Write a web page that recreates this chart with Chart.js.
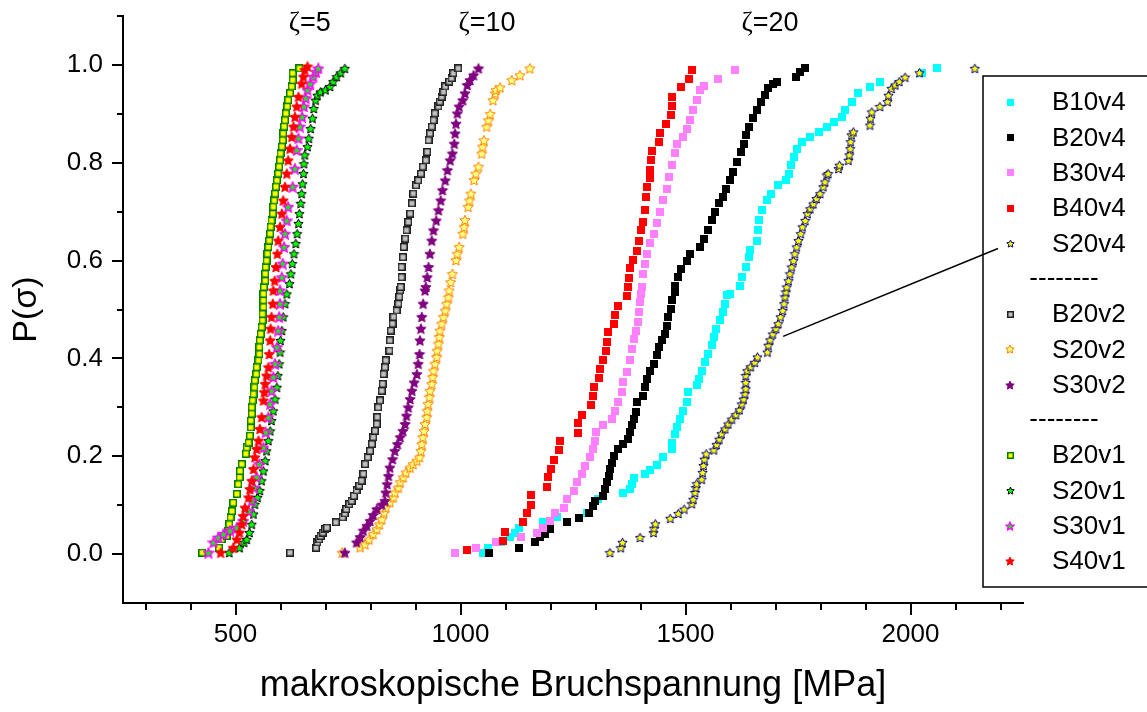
<!DOCTYPE html>
<html>
<head>
<meta charset="utf-8">
<script src="https://cdn.jsdelivr.net/npm/chart.js@4.4.1/dist/chart.umd.min.js"></script>
<style>
  html, body { margin: 0; padding: 0; background: #fff; }
</style>
</head>
<body>
<canvas id="chart" width="1147" height="712"></canvas>
<script>
// Achsen
const xTicks = [500, 1000, 1500, 2000];
const xMinorTicks = [300, 400, 500, 600, 700, 800, 900, 1000, 1100, 1200, 1300, 1400, 1500, 1600, 1700, 1800, 1900, 2000, 2100, 2200];
const yTicks = [0.0, 0.2, 0.4, 0.6, 0.8, 1.0];
const yMinorTicks = [0.0, 0.1, 0.2, 0.3, 0.4, 0.5, 0.6, 0.7, 0.8, 0.9, 1.0, 1.1];

// zeta=20
const b10v4X = [1051,1062,1091,1110,1121,1131,1184,1214,1280,1295,1306,1362,1377,1380,1386,1410,1421,1436,1451,1469,1471,1477,1482,1488,1495,1503,1506,1525,1531,1536,1543,1551,1558,1563,1568,1577,1583,1588,1593,1599,1620,1625,1634,1640,1643,1658,1662,1664,1669,1682,1691,1706,1723,1729,1734,1740,1747,1758,1777,1797,1814,1829,1847,1854,1869,1884,1910,1932,2025,2058];
const b10v4P = [.003,.013,.024,.034,.044,.054,.065,.075,.085,.099,.112,.124,.133,.144,.155,.164,.172,.183,.198,.215,.228,.246,.259,.276,.293,.310,.331,.345,.358,.375,.392,.409,.427,.444,.461,.478,.495,.512,.529,.532,.549,.566,.587,.607,.621,.641,.662,.682,.703,.723,.737,.754,.764,.778,.795,.812,.829,.843,.853,.863,.874,.884,.894,.908,.925,.942,.954,.966,.983,.993];

const b20v4X = [1064,1131,1166,1177,1188,1199,1236,1264,1286,1295,1299,1317,1321,1325,1329,1332,1336,1340,1351,1360,1373,1377,1380,1386,1390,1393,1406,1410,1414,1421,1429,1436,1442,1447,1454,1458,1462,1467,1471,1477,1477,1484,1491,1503,1511,1532,1540,1549,1558,1566,1575,1584,1591,1599,1606,1615,1623,1629,1634,1642,1651,1658,1667,1677,1684,1694,1703,1746,1754,1766];
const b20v4P = [.003,.013,.024,.034,.042,.051,.065,.073,.083,.099,.109,.119,.133,.147,.160,.174,.187,.201,.215,.225,.235,.249,.263,.276,.290,.310,.324,.341,.358,.375,.389,.406,.423,.437,.450,.467,.485,.502,.519,.536,.549,.566,.583,.600,.614,.628,.645,.662,.682,.699,.717,.730,.747,.764,.781,.802,.822,.839,.857,.874,.891,.908,.925,.938,.952,.962,.966,.976,.986,.993];

const b30v4X = [988,1034,1078,1134,1169,1184,1199,1210,1229,1236,1252,1258,1269,1277,1288,1295,1299,1300,1317,1336,1343,1351,1358,1362,1369,1377,1380,1386,1391,1395,1397,1399,1400,1403,1406,1410,1415,1421,1429,1436,1443,1451,1458,1464,1471,1477,1482,1495,1504,1510,1517,1525,1532,1540,1573,1610];
const b30v4P = [.003,.013,.024,.034,.044,.054,.068,.083,.095,.112,.129,.147,.164,.181,.198,.215,.232,.249,.263,.276,.293,.310,.331,.351,.372,.396,.420,.440,.457,.474,.495,.515,.532,.546,.573,.594,.614,.635,.655,.676,.700,.723,.747,.771,.795,.819,.839,.853,.870,.887,.908,.928,.949,.957,.971,.990];

const b40v4X = [1014,1095,1099,1139,1147,1157,1157,1193,1195,1202,1208,1219,1221,1260,1262,1269,1289,1294,1296,1308,1311,1317,1323,1325,1328,1341,1343,1351,1371,1373,1374,1377,1384,1392,1397,1400,1406,1410,1412,1414,1421,1421,1423,1425,1442,1443,1456,1468,1469,1471,1491,1508,1515];
const b40v4P = [.008,.027,.046,.065,.083,.1,.12,.138,.157,.174,.192,.212,.231,.248,.267,.285,.305,.323,.341,.36,.378,.397,.416,.433,.453,.471,.489,.508,.527,.545,.565,.584,.602,.62,.64,.662,.679,.703,.729,.75,.768,.786,.805,.824,.843,.861,.879,.898,.916,.935,.954,.972,.99];

const s20v4X = [1332,1356,1360,1399,1429,1430,1433,1466,1484,1497,1514,1517,1521,1523,1525,1536,1538,1540,1542,1546,1563,1569,1575,1580,1588,1595,1603,1612,1620,1625,1629,1632,1634,1634,1634,1637,1645,1654,1660,1682,1684,1688,1694,1701,1706,1711,1716,1719,1721,1723,1725,1729,1732,1736,1740,1743,1747,1751,1756,1760,1766,1771,1777,1784,1791,1799,1806,1810,1814,1817,1840,1842,1862,1864,1866,1867,1869,1873,1910,1911,1914,1932,1949,1951,1958,1966,1975,1988,2020,2143];
const s20v4P = [.003,.013,.024,.034,.044,.053,.062,.073,.083,.092,.103,.112,.126,.136,.144,.153,.167,.181,.194,.205,.213,.224,.235,.246,.256,.266,.276,.285,.295,.307,.317,.328,.338,.351,.365,.375,.383,.392,.403,.413,.427,.438,.450,.461,.471,.485,.498,.512,.526,.536,.546,.559,.573,.587,.600,.614,.628,.641,.655,.669,.682,.696,.706,.716,.727,.737,.751,.761,.775,.778,.788,.795,.805,.816,.829,.843,.857,.863,.877,.891,.904,.915,.925,.938,.952,.959,.966,.975,.984,.993];

// zeta=10
const b20v2X = [621,679,682,686,689,694,699,703,723,738,743,746,753,758,763,769,775,780,784,788,794,799,803,806,810,814,815,817,821,825,827,829,832,834,842,843,845,849,851,858,862,864,866,867,869,869,872,874,877,880,884,888,892,895,901,906,912,916,923,926,929,932,936,940,943,951,954,958,962,966,975,980,984,995];
const b20v2P = [.003,.013,.024,.030,.037,.044,.051,.054,.065,.075,.083,.092,.102,.109,.119,.130,.140,.150,.164,.184,.198,.211,.225,.239,.252,.266,.280,.300,.314,.334,.348,.368,.382,.396,.416,.437,.457,.471,.485,.498,.512,.526,.539,.546,.566,.587,.607,.628,.645,.662,.679,.696,.717,.737,.754,.764,.778,.792,.805,.822,.846,.860,.874,.887,.901,.915,.925,.935,.945,.956,.966,.973,.983,.993];

const s20v2X = [737,777,788,797,806,814,820,825,830,834,843,851,854,862,866,873,879,888,895,903,909,912,914,916,919,921,925,926,928,931,932,936,938,940,943,947,948,951,953,954,958,962,966,969,973,975,978,982,990,993,997,1005,1008,1010,1017,1020,1023,1030,1034,1040,1047,1049,1052,1058,1062,1066,1072,1077,1079,1088,1114,1132,1154];
const s20v2P = [.003,.014,.020,.030,.041,.051,.061,.071,.085,.095,.106,.116,.126,.136,.147,.157,.167,.177,.184,.191,.198,.211,.225,.239,.252,.266,.280,.293,.307,.321,.334,.348,.362,.375,.389,.403,.416,.430,.444,.457,.471,.485,.498,.512,.525,.539,.556,.573,.601,.614,.628,.655,.669,.683,.710,.723,.737,.765,.778,.792,.819,.833,.846,.874,.887,.900,.928,.942,.949,.954,.969,.979,.993];

const s30v2X = [743,769,777,784,792,799,806,814,825,832,834,837,840,843,849,854,860,866,872,877,880,884,888,892,897,903,906,909,910,912,914,917,921,923,926,929,932,936,940,946,951,956,960,966,971,977,982,986,988,990,993,997,1005,1010,1015,1021,1029,1040];
const s30v2P = [.003,.024,.035,.048,.058,.068,.080,.092,.101,.109,.126,.143,.160,.177,.194,.211,.225,.239,.252,.266,.283,.300,.317,.334,.351,.368,.389,.409,.437,.461,.485,.512,.539,.546,.566,.587,.614,.641,.662,.682,.703,.723,.744,.764,.785,.805,.819,.839,.860,.880,.901,.915,.928,.942,.959,.969,.979,.993];

// zeta=5
const b20v1X = [426,463,469,480,484,486,489,492,495,503,506,509,510,514,523,525,529,532,534,534,536,536,538,540,542,543,546,547,551,553,553,554,556,558,560,560,562,562,562,563,566,566,567,569,571,573,575,577,578,580,583,584,586,588,590,592,595,597,599,600,603,605,606,608,610,612,615,617,621,625,627,627,642];
const b20v1P = [.003,.013,.030,.037,.047,.061,.075,.088,.105,.123,.143,.157,.170,.184,.205,.218,.228,.242,.259,.273,.287,.300,.314,.327,.341,.355,.368,.382,.396,.409,.423,.437,.450,.464,.478,.491,.505,.519,.532,.546,.559,.573,.587,.600,.614,.628,.641,.655,.669,.682,.696,.710,.723,.737,.751,.764,.778,.792,.805,.819,.833,.846,.860,.874,.887,.901,.915,.928,.942,.956,.969,.983,.993];

const s20v1X = [486,509,519,525,531,536,540,543,549,554,558,562,566,569,573,577,580,584,588,592,594,597,599,600,603,606,610,614,620,623,626,630,634,637,640,642,645,647,649,651,652,654,660,663,667,671,674,678,682,689,700,710,717,725,734,743];
const s20v1P = [.003,.013,.024,.030,.044,.061,.082,.102,.116,.130,.150,.170,.191,.211,.232,.252,.273,.293,.317,.341,.365,.389,.413,.437,.457,.485,.512,.532,.553,.573,.594,.614,.635,.655,.676,.696,.717,.737,.757,.778,.798,.816,.833,.850,.870,.891,.911,.928,.938,.945,.949,.956,.966,.976,.984,.993];

const s30v1X = [440,451,462,473,488,503,517,529,536,541,547,553,562,567,573,577,580,584,588,592,595,597,599,599,603,605,608,610,614,617,627,632,636,640,643,648,652,656,660,666,673,679,684];
const s30v1P = [.003,.024,.034,.041,.048,.054,.068,.088,.109,.136,.157,.184,.218,.249,.280,.307,.334,.362,.389,.423,.457,.485,.512,.539,.566,.594,.628,.655,.682,.710,.751,.788,.826,.850,.874,.894,.915,.932,.949,.962,.976,.986,.993];

const s40v1X = [467,495,503,509,514,517,521,529,532,536,540,543,547,551,554,558,562,564,566,569,573,575,577,578,580,583,584,587,590,593,595,599,603,606,610,614,617,621,625,629,632,636,640,647,651,654,660];
const s40v1P = [.003,.013,.030,.044,.061,.078,.095,.116,.133,.150,.174,.198,.215,.232,.256,.280,.314,.331,.348,.365,.382,.409,.437,.461,.485,.512,.539,.559,.587,.614,.641,.669,.696,.723,.751,.778,.805,.829,.853,.874,.894,.915,.935,.962,.976,.990,.997];

const legendRows = ['B10v4', 'B20v4', 'B30v4', 'B40v4', 'S20v4', '--------', 'B20v2', 'S20v2', 'S30v2', '--------', 'B20v1', 'S20v1', 'S30v1', 'S40v1'];
const zetaLabels = [{ num: '5', x: 665 }, { num: '10', x: 1059 }, { num: '20', x: 1688 }];

const FONT = "'Liberation Sans', Arial, sans-serif";
const ZETA_FONT = "27px 'Liberation Serif', 'Times New Roman', serif";

/** 5-zackiger Stern als Marker */
function starImage(size, fill, stroke, lw) {
  const c = document.createElement('canvas');
  c.width = size; c.height = size;
  const g = c.getContext('2d');
  const cx = size / 2, cy = size / 2 + size * 0.05;
  const R = size / 2 - (stroke ? lw / 2 : 0) - 0.1, r = R * 0.48;
  g.beginPath();
  for (let i = 0; i < 10; i++) {
    const a = -Math.PI / 2 + i * Math.PI / 5;
    const rad = i % 2 ? r : R;
    g.lineTo(cx + rad * Math.cos(a), cy + rad * Math.sin(a));
  }
  g.closePath();
  g.fillStyle = fill;
  g.fill();
  if (stroke) { g.lineWidth = lw; g.strokeStyle = stroke; g.stroke(); }
  return c;
}

/** Quadrat als Marker */
function squareImage(size, fill, stroke, lw) {
  const c = document.createElement('canvas');
  c.width = size; c.height = size;
  const g = c.getContext('2d');
  g.fillStyle = fill;
  g.fillRect(0, 0, size, size);
  if (stroke) { g.lineWidth = lw; g.strokeStyle = stroke; g.strokeRect(lw / 2, lw / 2, size - lw, size - lw); }
  return c;
}

const markers = {
  B10v4: squareImage(8, '#00FFFF'),
  B20v4: squareImage(8, '#000000'),
  B30v4: squareImage(8, '#FF80FF'),
  B40v4: squareImage(8, '#FF0000'),
  S20v4: starImage(11, '#FFFF00', '#000080', 1),
  B20v2: squareImage(8, '#C0C0C0', '#202020', 1.5),
  S20v2: starImage(12, '#FFFF80', '#FF8000', 1),
  S30v2: starImage(12, '#800080', '#800080', 1),
  B20v1: squareImage(8, '#FFFF00', '#008000', 1.5),
  S20v1: starImage(11, '#00FF00', '#000000', 1),
  S30v1: starImage(12, '#00FF00', '#FF00FF', 1.5),
  S40v1: starImage(12, '#FF0000', '#FF0000', 1)
};
const legendMarkers = {
  B10v4: squareImage(7, '#00FFFF'),
  B20v4: squareImage(7, '#000000'),
  B30v4: squareImage(7, '#FF80FF'),
  B40v4: squareImage(7, '#FF0000'),
  S20v4: starImage(9, '#FFFF00', '#000080', 1),
  B20v2: squareImage(7, '#C0C0C0', '#202020', 1.5),
  S20v2: starImage(10, '#FFFF80', '#FF8000', 1),
  S30v2: starImage(10, '#800080', '#800080', 1),
  B20v1: squareImage(7, '#FFFF00', '#008000', 1.5),
  S20v1: starImage(9, '#00FF00', '#000000', 1),
  S30v1: starImage(10, '#00FF00', '#FF00FF', 1.3),
  S40v1: starImage(10, '#FF0000', '#FF0000', 1)
};

const seriesList = [
  ['B10v4', b10v4X, b10v4P],
  ['B20v4', b20v4X, b20v4P],
  ['B30v4', b30v4X, b30v4P],
  ['B40v4', b40v4X, b40v4P],
  ['S20v4', s20v4X, s20v4P],
  ['B20v2', b20v2X, b20v2P],
  ['S20v2', s20v2X, s20v2P],
  ['S30v2', s30v2X, s30v2P],
  ['B20v1', b20v1X, b20v1P],
  ['S20v1', s20v1X, s20v1P],
  ['S30v1', s30v1X, s30v1P],
  ['S40v1', s40v1X, s40v1P]
];

const datasets = seriesList.map(([name, xs, ps], i) => ({
  label: name,
  data: xs.map((v, k) => ({ x: v, y: ps[k] })),
  showLine: false,
  pointStyle: markers[name],
  pointRadius: 5,
  pointHoverRadius: 5,
  order: seriesList.length - i
}));

// Ticks, Legende, Beschriftungen
const decor = {
  id: 'decor',
  afterDraw(chart) {
    const { ctx, chartArea: a, scales: { x, y } } = chart;
    ctx.save();
    ctx.strokeStyle = '#000';
    ctx.lineWidth = 2;
    ctx.beginPath();
    xMinorTicks.forEach(v => {
      const px = Math.round(x.getPixelForValue(v));
      const len = xTicks.includes(v) ? 12 : 7;
      ctx.moveTo(px, a.bottom); ctx.lineTo(px, a.bottom + len);
    });
    yMinorTicks.forEach(v => {
      const py = Math.round(y.getPixelForValue(v));
      const len = yTicks.some(t => Math.abs(t - v) < 1e-9) ? 11 : 6;
      ctx.moveTo(a.left, py); ctx.lineTo(a.left - len, py);
    });
    ctx.stroke();

    // zeta labels
    ctx.fillStyle = '#000';
    ctx.textBaseline = 'alphabetic';
    const zy = y.getPixelForValue(1.07);
    zetaLabels.forEach(z => {
      const cx = x.getPixelForValue(z.x);
      ctx.font = ZETA_FONT;
      const w1 = ctx.measureText('ζ').width;
      ctx.font = '27px ' + FONT;
      const w2 = ctx.measureText('=' + z.num).width;
      const sx = cx - (w1 + w2) / 2;
      ctx.font = ZETA_FONT;
      ctx.fillText('ζ', sx, zy);
      ctx.font = '27px ' + FONT;
      ctx.fillText('=' + z.num, sx + w1, zy);
    });

    // legend
    const lx = 983, ly = 76, lh = 511, rowH = 35.3, row0 = 102.3;
    ctx.lineWidth = 1.5;
    ctx.strokeRect(lx, ly, 200, lh);
    ctx.font = '26px ' + FONT;
    ctx.textBaseline = 'middle';
    legendRows.forEach((name, i) => {
      const ry = row0 + i * rowH;
      if (name.startsWith('-')) {
        ctx.textAlign = 'center';
        ctx.fillText(name, 1064, ry);
        return;
      }
      const m = legendMarkers[name];
      ctx.drawImage(m, Math.round(1010 - m.width / 2), Math.round(ry - m.height / 2));
      ctx.textAlign = 'left';
      ctx.fillText(name, 1052, ry + 1);
    });

    // pointer to S20v4
    const sRow = row0 + legendRows.indexOf('S20v4') * rowH;
    ctx.lineWidth = 1.5;
    ctx.beginPath();
    ctx.moveTo(x.getPixelForValue(1717), y.getPixelForValue(0.445));
    ctx.lineTo(998, sRow + 5);
    ctx.stroke();
    ctx.restore();
  }
};

new Chart(document.getElementById('chart'), {
  type: 'scatter',
  data: { datasets },
  options: {
    responsive: false,
    animation: false,
    events: [],
    layout: { padding: { top: 16, right: 124, left: 0, bottom: 0 } },
    plugins: { legend: { display: false }, tooltip: { enabled: false } },
    scales: {
      x: {
        type: 'linear', min: 250, max: 2250,
        afterFit: s => { s.height = 109; s.paddingLeft = 0; s.paddingRight = 0; },
        afterBuildTicks: s => { s.ticks = xTicks.map(v => ({ value: v })); },
        grid: { display: false, drawTicks: false },
        border: { display: true, color: '#000', width: 2 },
        ticks: { color: '#000', font: { family: FONT, size: 26 }, padding: 16, maxRotation: 0, autoSkip: false, callback: v => String(v) },
        title: { display: true, text: 'makroskopische Bruchspannung [MPa]', color: '#000', font: { family: FONT, size: 36 }, padding: { top: 0, bottom: 4 } }
      },
      y: {
        type: 'linear', min: -0.1, max: 1.1,
        afterFit: s => { s.width = 123; s.paddingTop = 0; s.paddingBottom = 0; },
        afterBuildTicks: s => { s.ticks = yTicks.map(v => ({ value: v })); },
        grid: { display: false, drawTicks: false },
        border: { display: true, color: '#000', width: 2 },
        ticks: { color: '#000', font: { family: FONT, size: 26 }, padding: 20, callback: v => v.toFixed(1) },
        title: { display: true, text: 'P(σ)', color: '#000', font: { family: FONT, size: 34 }, padding: { top: 6, bottom: 0 } }
      }
    }
  },
  plugins: [decor]
});
</script>
</body>
</html>
